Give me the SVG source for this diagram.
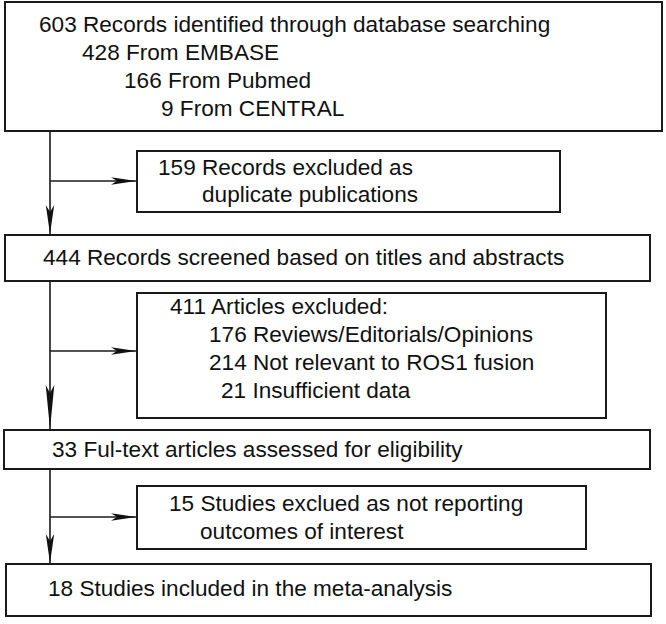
<svg xmlns="http://www.w3.org/2000/svg" width="666" height="624" viewBox="0 0 666 624">
  <defs>
    <style>
      .box { fill: #ffffff; stroke: #1a1a1a; stroke-width: 2; }
      .lbl { font-family: "Liberation Sans", Arial, sans-serif; font-size: 22.6px; fill: #111111; }
      .ln { fill: none; stroke: #1a1a1a; stroke-width: 1.6; }
    </style>
    <marker id="ah" markerUnits="userSpaceOnUse" markerWidth="26" markerHeight="10" refX="25" refY="5" orient="auto" viewBox="0 0 26 10">
      <path d="M0,1.3 L25,5 L0,8.7 L6,5 Z" fill="#111111"/>
    </marker>
    <marker id="av" markerUnits="userSpaceOnUse" markerWidth="30" markerHeight="10" refX="29" refY="5" orient="auto" viewBox="0 0 30 10">
      <path d="M0,0.8 L29,5 L0,9.2 L7,5 Z" fill="#111111"/>
    </marker>
    <marker id="avl" markerUnits="userSpaceOnUse" markerWidth="45" markerHeight="10" refX="44" refY="5" orient="auto" viewBox="0 0 45 10">
      <path d="M0,0.7 L44,5 L0,9.3 L8,5 Z" fill="#111111"/>
    </marker>
  </defs>
  <rect width="666" height="624" fill="#ffffff"/>

  <g id="connectors">
    <line class="ln" x1="50" y1="131" x2="50" y2="234" marker-end="url(#av)"/>
    <line class="ln" x1="50" y1="181" x2="136" y2="181" marker-end="url(#ah)"/>
    <line class="ln" x1="50" y1="281" x2="50" y2="429" marker-end="url(#avl)"/>
    <line class="ln" x1="50" y1="351" x2="136" y2="351" marker-end="url(#ah)"/>
    <line class="ln" x1="50" y1="469" x2="50" y2="563" marker-end="url(#av)"/>
    <line class="ln" x1="50" y1="517" x2="136" y2="517" marker-end="url(#ah)"/>
  </g>

  <g id="identified">
    <rect class="box" x="5" y="2" width="657" height="129"/>
    <text class="lbl" x="39" y="32">603 Records identified through database searching</text>
    <text class="lbl" x="82" y="60">428 From EMBASE</text>
    <text class="lbl" x="124" y="88">166 From Pubmed</text>
    <text class="lbl" x="161" y="116">9 From CENTRAL</text>
  </g>

  <g id="duplicates">
    <rect class="box" x="137" y="151" width="423" height="61"/>
    <text class="lbl" x="158" y="175">159 Records excluded as</text>
    <text class="lbl" x="202" y="202">duplicate publications</text>
  </g>

  <g id="screened">
    <rect class="box" x="5" y="235" width="645" height="46"/>
    <text class="lbl" x="43" y="265">444 Records screened based on titles and abstracts</text>
  </g>

  <g id="excluded-articles">
    <rect class="box" x="137" y="293" width="469" height="125"/>
    <text class="lbl" x="170" y="314">411 Articles excluded:</text>
    <text class="lbl" x="209" y="342">176 Reviews/Editorials/Opinions</text>
    <text class="lbl" x="209" y="370">214 Not relevant to ROS1 fusion</text>
    <text class="lbl" x="221" y="398">21 Insufficient data</text>
  </g>

  <g id="fulltext">
    <rect class="box" x="4" y="430" width="646" height="39"/>
    <text class="lbl" x="52" y="457">33 Ful-text articles assessed for eligibility</text>
  </g>

  <g id="excluded-studies">
    <rect class="box" x="137" y="486" width="449" height="63"/>
    <text class="lbl" x="169" y="511">15 Studies exclued as not reporting</text>
    <text class="lbl" x="200" y="539">outcomes of interest</text>
  </g>

  <g id="included">
    <rect class="box" x="6" y="564" width="645" height="52"/>
    <text class="lbl" x="48" y="596">18 Studies included in the meta-analysis</text>
  </g>
</svg>
